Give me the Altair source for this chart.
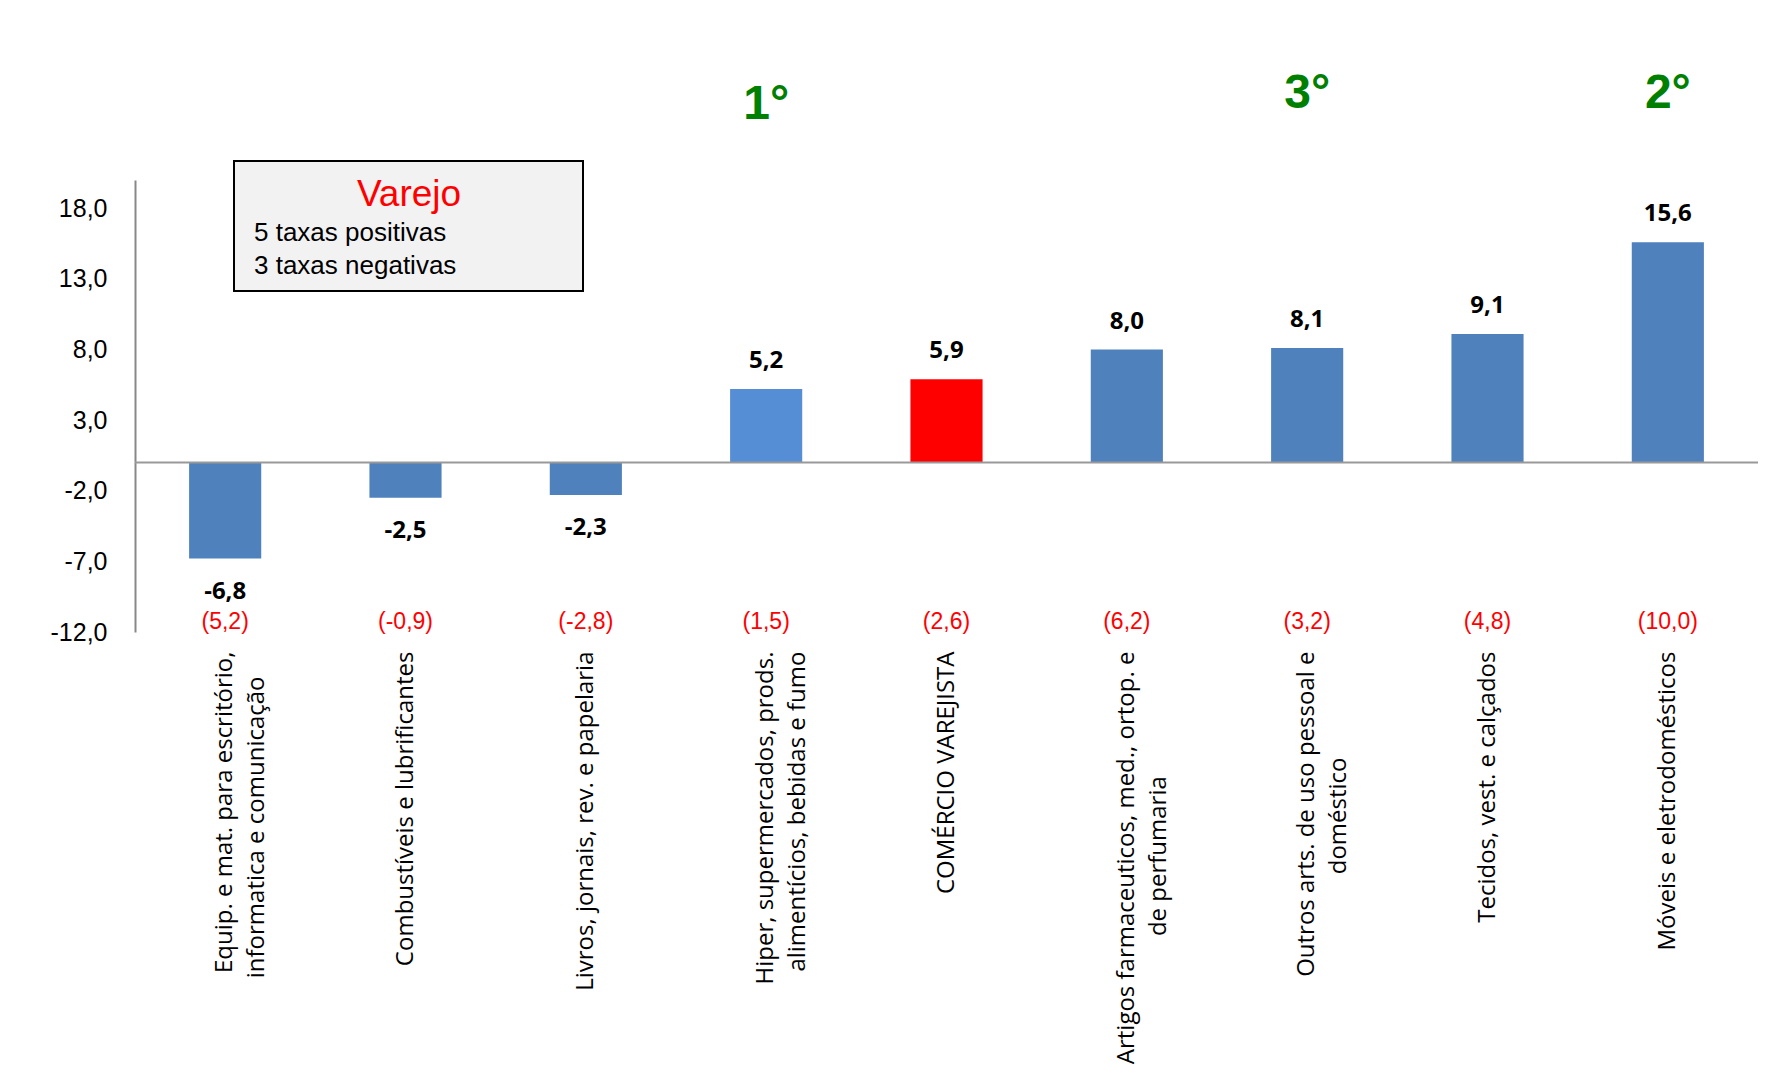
import altair as alt
import pandas as pd

categories = [
    "Equip. e mat. para escritório,|informatica e comunicação",
    "Combustíveis e lubrificantes",
    "Livros, jornais, rev. e papelaria",
    "Hiper, supermercados, prods.|alimentícios, bebidas e fumo",
    "COMÉRCIO VAREJISTA",
    "Artigos farmaceuticos, med., ortop. e|de perfumaria",
    "Outros arts. de uso pessoal e|doméstico",
    "Tecidos, vest. e calçados",
    "Móveis e eletrodomésticos",
]
values = [-6.8, -2.5, -2.3, 5.2, 5.9, 8.0, 8.1, 9.1, 15.6]
previous = [5.2, -0.9, -2.8, 1.5, 2.6, 6.2, 3.2, 4.8, 10.0]
ranks = ["", "", "", "1°", "", "", "3°", "", "2°"]
y_ticks = [-12, -7, -2, 3, 8, 13, 18]
legend_title = ["Varejo"]
legend_lines = ["5 taxas positivas", "3 taxas negativas"]

bar_colors = ["#4F81BD", "#4F81BD", "#4F81BD", "#558ED5", "#FF0000",
              "#4F81BD", "#4F81BD", "#4F81BD", "#4F81BD"]


def br(v):
    return f"{v:.1f}".replace(".", ",")


df = pd.DataFrame({
    "cat": categories,
    "value": values,
    "label": [br(v) for v in values],
    "prev": ["(" + br(p) + ")" for p in previous],
    "rank": ranks,
})

W, H = 1623, 452
LABEL_FONT = "Open Sans"
NBSP = "\u00a0"
ZWSP = "\u200b"

# centre the second line of two-line labels under the first (right-aligned block);
# a zero-width char keeps the trailing no-break spaces from being trimmed
label_expr = (
    "length(split(datum.label, '|')) > 1 ? "
    "[split(datum.label, '|')[0], "
    "pad(split(datum.label, '|')[1], length(split(datum.label, '|')[1]) + "
    "max(0, floor(0.85 * (length(split(datum.label, '|')[0]) - length(split(datum.label, '|')[1])))), '"
    + NBSP + "') + '" + ZWSP + "'] : datum.label"
)

x_enc = alt.X(
    "cat:N", sort=categories,
    scale=alt.Scale(paddingInner=0.6, paddingOuter=0.3),
    axis=alt.Axis(
        title=None, labelAngle=270, labelAlign="right", labelBaseline="middle",
        domain=False, ticks=False, labelPadding=19,
        labelExpr=label_expr,
        labelFont=LABEL_FONT, labelFontSize=24, labelColor="black",
        labelLineHeight=32, labelLimit=0,
    ),
)
y_scale = alt.Scale(domain=[-12, 20], nice=False, zero=False)

base = alt.Chart(df)

bars = base.mark_bar().encode(
    x=x_enc,
    y=alt.Y(
        "value:Q", scale=y_scale,
        axis=alt.Axis(
            title=None, values=y_ticks, grid=False, ticks=False,
            domainColor="#888888", domainWidth=2, labelPadding=28,
            labelExpr="replace((datum.value < 0 ? '-' : '') + format(abs(datum.value), '.1f'), '.', ',')",
            labelFont="Liberation Sans Narrow, Liberation Sans",
            labelFontSize=25, labelColor="black",
        ),
    ),
    color=alt.Color("cat:N", scale=alt.Scale(domain=categories, range=bar_colors), legend=None),
)

zero_rule = alt.Chart(pd.DataFrame({"z": [0]})).mark_rule(color="#999999", strokeWidth=2).encode(
    y=alt.Y("z:Q", scale=y_scale)
)

pos_labels = base.transform_filter("datum.value > 0").mark_text(
    font=LABEL_FONT, fontWeight="bold", fontSize=24, color="black", dy=-28, baseline="middle"
).encode(x=alt.X("cat:N", sort=categories), y=alt.Y("value:Q", scale=y_scale), text="label:N")

neg_labels = base.transform_filter("datum.value < 0").mark_text(
    font=LABEL_FONT, fontWeight="bold", fontSize=24, color="black", dy=33, baseline="middle"
).encode(x=alt.X("cat:N", sort=categories), y=alt.Y("value:Q", scale=y_scale), text="label:N")

prev_labels = base.mark_text(
    font="Liberation Sans", fontSize=23, color="#FF0000", baseline="middle"
).encode(x=alt.X("cat:N", sort=categories), y=alt.value(442), text="prev:N")

rank1 = base.transform_filter("datum.rank == '1°'").mark_text(
    font="Liberation Sans", fontWeight="bold", fontSize=48, color="#008000", baseline="middle"
).encode(x=alt.X("cat:N", sort=categories), y=alt.value(-75), text="rank:N")

rank_other = base.transform_filter("datum.rank == '2°' || datum.rank == '3°'").mark_text(
    font="Liberation Sans", fontWeight="bold", fontSize=48, color="#008000", baseline="middle"
).encode(x=alt.X("cat:N", sort=categories), y=alt.value(-86), text="rank:N")

box_df = pd.DataFrame({"t": legend_title})
legend_box = alt.Chart(box_df).mark_rect(fill="#F2F2F2", stroke="black", strokeWidth=2).encode(
    x=alt.value(99), x2=alt.value(448), y=alt.value(-19), y2=alt.value(111)
)
legend_head = alt.Chart(box_df).mark_text(
    font="Liberation Sans", fontSize=37, color="#FF0000", align="center", baseline="middle"
).encode(x=alt.value(274), y=alt.value(15), text="t:N")

line_df = pd.DataFrame({"t": legend_lines, "i": [0, 1]})
legend_l1 = alt.Chart(line_df).transform_filter("datum.i == 0").mark_text(
    font="Liberation Sans", fontSize=26, color="black", align="left", baseline="middle"
).encode(x=alt.value(119), y=alt.value(53), text="t:N")
legend_l2 = alt.Chart(line_df).transform_filter("datum.i == 1").mark_text(
    font="Liberation Sans", fontSize=26, color="black", align="left", baseline="middle"
).encode(x=alt.value(119), y=alt.value(86), text="t:N")

chart = alt.layer(
    bars, zero_rule, pos_labels, neg_labels, prev_labels, rank1, rank_other,
    legend_box, legend_head, legend_l1, legend_l2,
).properties(
    width=W, height=H,
    background="white",
    autosize=alt.AutoSizeParams(type="none"),
    padding={"left": 127, "top": 172, "right": 10, "bottom": 435},
).configure_view(strokeWidth=0)

chart.save("out.html", embed_options={"renderer": "svg", "actions": False})
